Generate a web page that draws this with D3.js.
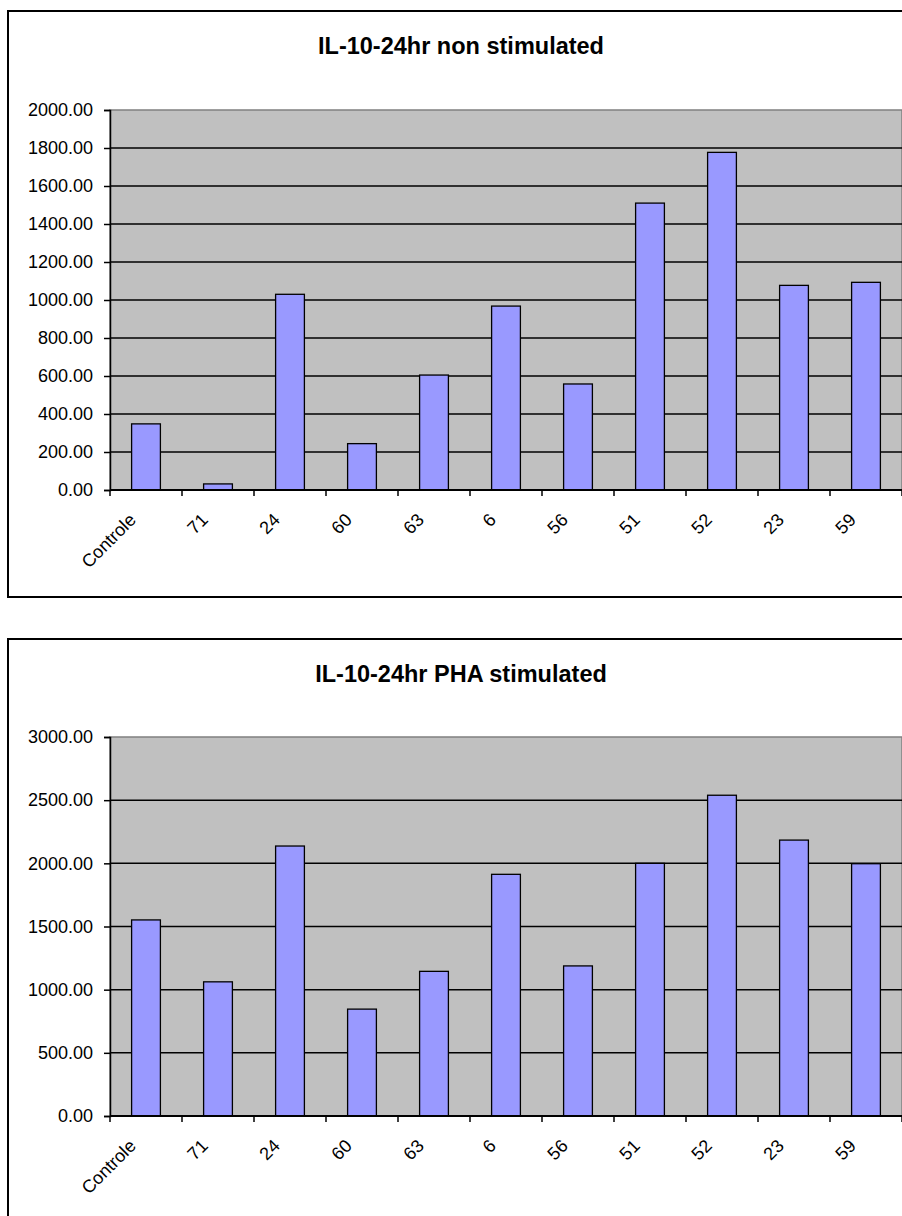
<!DOCTYPE html>
<html>
<head>
<meta charset="utf-8">
<script src="https://cdn.jsdelivr.net/npm/d3@7"></script>
<style>
  body { margin: 0; background: #fff; }
  svg { display: block; font-family: Arial, "Liberation Sans", sans-serif; }
</style>
</head>
<body>
<div id="vis"></div>
<script>
// IL-10 24hr charts, two panels
const categories = ["Controle", "71", "24", "60", "63", "6", "56", "51", "52", "23", "59"];
const nonStimulated = [348, 32, 1030, 244, 605, 968, 558, 1510, 1777, 1077, 1093];
const phaStimulated = [1552, 1062, 2137, 846, 1145, 1913, 1188, 2000, 2539, 2184, 1997];
const titles = ["IL-10-24hr non stimulated", "IL-10-24hr PHA stimulated"];
const yMax = [2000, 3000];
const yStep = [200, 500];

const width = 902, height = 1216;

const svg = d3.select("#vis").append("svg")
  .attr("width", width)
  .attr("height", height);

const panels = [
  { frameTop: 11, frameBottom: 597, plotTop: 110, plotBottom: 490, values: nonStimulated },
  { frameTop: 639, frameBottom: 1300, plotTop: 737, plotBottom: 1116, values: phaStimulated }
];

panels.forEach((p, idx) => {
  const g = svg.append("g");
  const left = 110, right = 902;

  // outer frame (right side runs off the page)
  g.append("rect")
    .attr("x", 8).attr("y", p.frameTop)
    .attr("width", 1000).attr("height", p.frameBottom - p.frameTop)
    .attr("fill", "#fff")
    .attr("stroke", "#000")
    .attr("stroke-width", 2);

  // title
  g.append("text")
    .attr("x", 461)
    .attr("y", p.frameTop + 43)
    .attr("text-anchor", "middle")
    .attr("font-size", "23.5px")
    .attr("font-weight", "bold")
    .text(titles[idx]);

  const x = d3.scaleBand()
    .domain(categories)
    .range([left, right])
    .paddingInner(0.6)
    .paddingOuter(0.3);

  const y = d3.scaleLinear()
    .domain([0, yMax[idx]])
    .range([p.plotBottom, p.plotTop]);

  const ticks = d3.range(0, yMax[idx] + 1, yStep[idx]);

  // plot background
  g.append("rect")
    .attr("x", left).attr("y", p.plotTop)
    .attr("width", right - left).attr("height", p.plotBottom - p.plotTop)
    .attr("fill", "#c0c0c0")
    .attr("stroke", "#808080")
    .attr("stroke-width", 1.5);

  // gridlines
  g.selectAll(".grid")
    .data(ticks.filter(v => v > 0 && v < yMax[idx]))
    .enter().append("line")
    .attr("x1", left).attr("x2", right)
    .attr("y1", d => y(d)).attr("y2", d => y(d))
    .attr("stroke", "#000")
    .attr("stroke-width", 1.5);

  // bars
  g.selectAll(".bar")
    .data(p.values)
    .enter().append("rect")
    .attr("x", (d, i) => x(categories[i]))
    .attr("y", d => y(d))
    .attr("width", x.bandwidth())
    .attr("height", d => y(0) - y(d))
    .attr("fill", "#9999ff")
    .attr("stroke", "#000")
    .attr("stroke-width", 1.3);

  // y axis
  const yAxis = g.append("g")
    .attr("transform", `translate(${left},0)`)
    .call(d3.axisLeft(y).tickValues(ticks).tickSize(6).tickPadding(11).tickFormat(d3.format(".2f")));
  yAxis.attr("font-size", null).attr("font-family", null);
  yAxis.select(".domain").attr("stroke", "#000").attr("stroke-width", 1.5);
  yAxis.selectAll(".tick line").attr("stroke", "#000").attr("stroke-width", 1.5);
  yAxis.selectAll(".tick text")
    .style("font-size", "18px")
    .attr("fill", "#000");

  // x axis line + category boundary ticks
  g.append("line")
    .attr("x1", left).attr("x2", right)
    .attr("y1", y(0)).attr("y2", y(0))
    .attr("stroke", "#000")
    .attr("stroke-width", 2);

  const bounds = d3.range(categories.length + 1).map(i => left + i * x.step());
  g.selectAll(".xtick")
    .data(bounds)
    .enter().append("line")
    .attr("x1", d => d).attr("x2", d => d)
    .attr("y1", y(0)).attr("y2", y(0) + 6)
    .attr("stroke", "#000")
    .attr("stroke-width", 1.5);

  // category labels
  g.selectAll(".xlabel")
    .data(categories)
    .enter().append("text")
    .attr("transform", d => `translate(${x(d) + x.bandwidth() / 2 - 9},${y(0) + 31}) rotate(-45)`)
    .attr("text-anchor", "end")
    .style("font-size", "18px")
    .text(d => d);
});
</script>
</body>
</html>
